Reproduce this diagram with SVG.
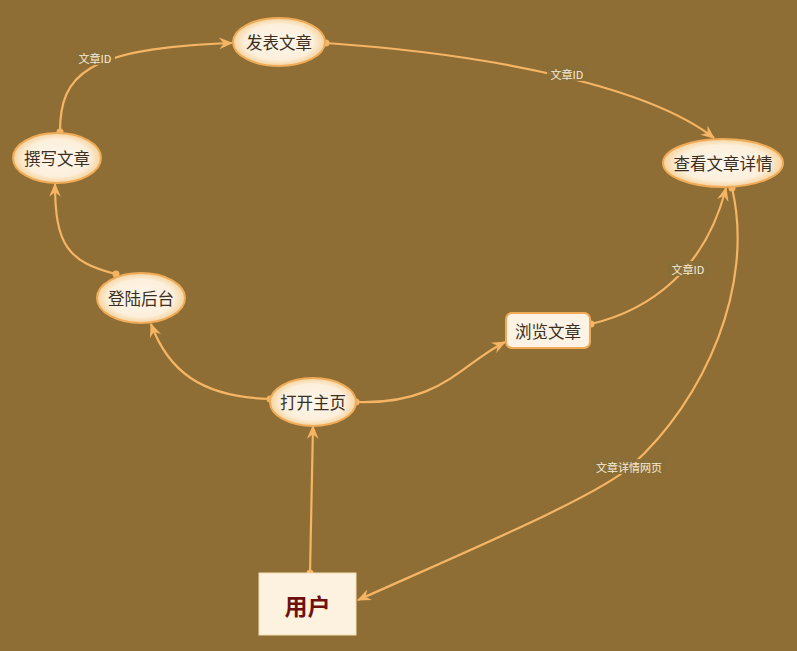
<svg xmlns="http://www.w3.org/2000/svg" width="797" height="651" viewBox="0 0 797 651">
<style>
.edge{fill:none;stroke:#f5b565;stroke-width:2.2}
.node{fill:url(#ng);stroke:#f0ab58;stroke-width:2}
.nt{font-family:"Noto Sans CJK SC","Noto Sans",sans-serif;font-size:16.5px;fill:#3b2f22;text-anchor:middle;dominant-baseline:central}
.lt{font-family:"Noto Sans CJK SC","Noto Sans",sans-serif;font-size:11px;fill:#f7ecd6;text-anchor:middle;dominant-baseline:central}
.lb{fill:#8a6e38;opacity:0.9}
.dot{fill:#f5b565}
</style>
<defs>
<radialGradient id="ng" cx="0.5" cy="0.5" r="0.5">
<stop offset="0" stop-color="#fef7ec"/>
<stop offset="0.75" stop-color="#fcefdb"/>
<stop offset="1" stop-color="#f6d39c"/>
</radialGradient>
<marker id="arr" viewBox="0 0 12 10" refX="11" refY="5" markerWidth="14" markerHeight="12" markerUnits="userSpaceOnUse" orient="auto">
<path d="M0,0 L12,5 L0,10 L4,5 z" fill="#f5b565"/>
</marker>
</defs>
<rect width="797" height="651" fill="#8e6e34"/>
<g id="connectors">
<path class="edge" d="M60,132 C60,75 85,48 232,43" marker-end="url(#arr)"/>
<circle class="dot" cx="60" cy="132" r="3.5"/>
<path class="edge" d="M326,43 C500,55 650,88 714,138" marker-end="url(#arr)"/>
<circle class="dot" cx="326" cy="43" r="3.5"/>
<path class="edge" d="M591,324 C650,310 705,270 726,188" marker-end="url(#arr)"/>
<circle class="dot" cx="591" cy="324" r="3.5"/>
<path class="edge" d="M732,188 C755,285 705,400 631,466 C600,495 470,550 358,600" marker-end="url(#arr)"/>
<circle class="dot" cx="732" cy="188" r="3.5"/>
<path class="edge" d="M310,573 L313,426" marker-end="url(#arr)"/>
<circle class="dot" cx="310" cy="573" r="3.5"/>
<path class="edge" d="M270,399 C200,397 168,370 151,324" marker-end="url(#arr)"/>
<circle class="dot" cx="270" cy="399" r="3.5"/>
<path class="edge" d="M116,274 C68,262 55,245 55,184" marker-end="url(#arr)"/>
<circle class="dot" cx="116" cy="274" r="3.5"/>
<path class="edge" d="M356,402 C440,405 460,365 505,342" marker-end="url(#arr)"/>
<circle class="dot" cx="356" cy="402" r="3.5"/>
<rect class="lb" x="75" y="50" width="40" height="15"/>
<text class="lt" x="95" y="57.5">文章ID</text>
<rect class="lb" x="547" y="66" width="40" height="15"/>
<text class="lt" x="567" y="73.5">文章ID</text>
<rect class="lb" x="668" y="261" width="40" height="15"/>
<text class="lt" x="688" y="268.5">文章ID</text>
<rect class="lb" x="592" y="459" width="74" height="15"/>
<text class="lt" x="629" y="466.5">文章详情网页</text>
</g>
<g id="n-publish"><ellipse class="node" cx="279" cy="42" rx="46" ry="24"/><text class="nt" x="279" y="42">发表文章</text></g>
<g id="n-write"><ellipse class="node" cx="57" cy="158" rx="44" ry="25"/><text class="nt" x="57" y="158">撰写文章</text></g>
<g id="n-login"><ellipse class="node" cx="141" cy="298" rx="44" ry="25"/><text class="nt" x="141" y="298">登陆后台</text></g>
<g id="n-home"><ellipse class="node" cx="313" cy="402" rx="43" ry="24"/><text class="nt" x="313" y="402">打开主页</text></g>
<g id="n-browse"><rect x="506" y="313" width="84" height="35" rx="6" fill="#fdf3e4" stroke="#f0ab58" stroke-width="2"/><text class="nt" x="548" y="330.5">浏览文章</text></g>
<g id="n-detail"><ellipse class="node" cx="723" cy="163" rx="60" ry="24"/><text class="nt" x="723" y="163">查看文章详情</text></g>
<g id="n-user"><rect x="259" y="573" width="97" height="62" fill="#fdf1e0" stroke="#f3dcb0" stroke-width="1"/><text x="307.5" y="605" font-family="'Noto Sans CJK SC','Noto Sans',sans-serif" font-size="23" font-weight="bold" fill="#6e1010" text-anchor="middle" dominant-baseline="central">用户</text></g>
</svg>
